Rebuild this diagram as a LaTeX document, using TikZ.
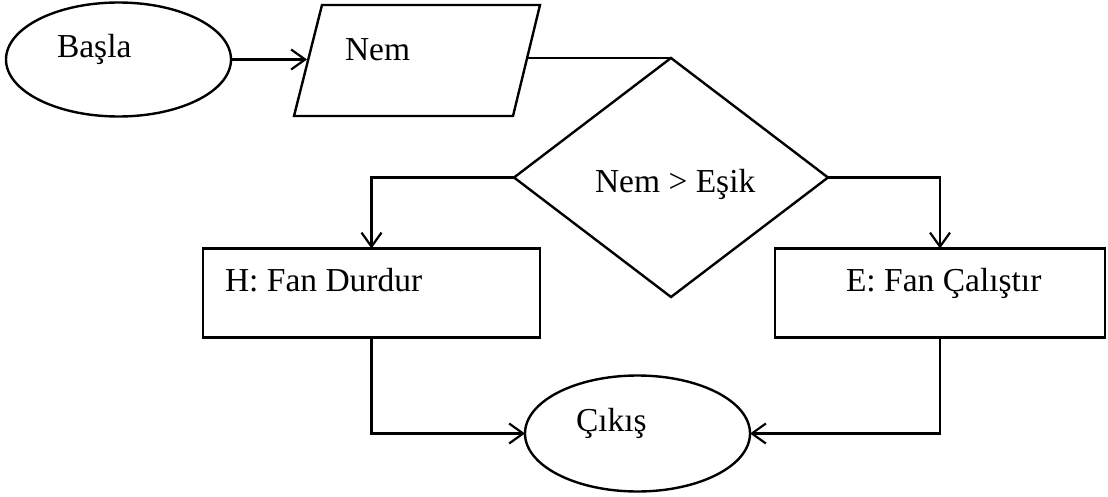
\documentclass[tikz,border=0pt]{standalone}
\usepackage{fontspec}
\setmainfont{Liberation Serif}
\usetikzlibrary{shapes.geometric,arrows.meta}
\begin{document}
\begin{tikzpicture}[x=1pt,y=-1pt,
  every node/.style={inner sep=0pt,outer sep=0pt},
  shp/.style={draw,line width=2.4pt},
  lbl/.style={font=\fontsize{33.5}{38}\selectfont,anchor=base west},
  conn/.style={line width=2.2pt},
  arr/.style={conn,-{Straight Barb[length=14pt,width=20pt,line width=2.2pt]}}]
\useasboundingbox (0,0) rectangle (1108,497);
% shapes
\node[shp,ellipse,minimum width=225pt,minimum height=114pt] (start) at (118.5,59.5) {};
\coordinate (p1) at (322,5);
\coordinate (p2) at (540,5);
\coordinate (p3) at (513,116);
\coordinate (p4) at (294,116);
\draw[shp,line join=miter] (p1) -- (p2) -- (p3) -- (p4) -- cycle;
\coordinate (nemin) at (307,59);
\coordinate (nemout) at (528,58);
\node[shp,diamond,minimum width=314pt,minimum height=239pt] (dec) at (671,177.5) {};
\node[shp,rectangle,minimum width=337pt,minimum height=89pt] (hbox) at (371.5,293) {};
\node[shp,rectangle,minimum width=330pt,minimum height=89pt] (ebox) at (940,293) {};
\node[shp,ellipse,minimum width=225pt,minimum height=116pt] (end) at (637.5,433.5) {};
% labels
\node[lbl] (tstart) at (57,58) {Başla};
\node[lbl] (tnem) at (345,61) {Nem};
\node[lbl] (tdec) at (595,193) {Nem > Eşik};
\node[lbl] (thbox) at (225,291) {H: Fan Durdur};
\node[lbl] (tebox) at (846,291) {E: Fan Çalıştır};
\node[lbl] (tend) at (576,431) {Çıkış};
% connectors
\draw[arr] (start.east) -- (nemin |- start.east);
\draw[conn] (nemout |- dec.north) -- (dec.north);
\draw[arr] (dec.west) -| (hbox.north);
\draw[arr] (dec.east) -| (ebox.north);
\draw[arr] (hbox.south) |- (end.west);
\draw[arr] (ebox.south) |- (end.east);
\end{tikzpicture}
\end{document}
